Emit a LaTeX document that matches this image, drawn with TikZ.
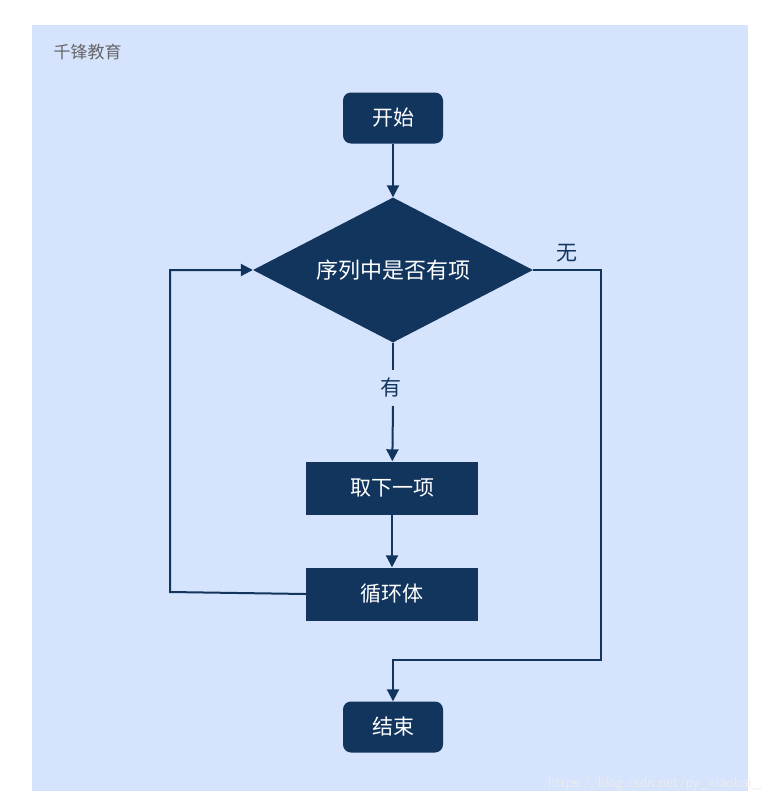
\documentclass[tikz,border=0pt]{standalone}
\usepackage{fontspec}
\setmainfont{Noto Sans CJK SC}
\usetikzlibrary{shapes.geometric,arrows.meta}
\definecolor{navy}{HTML}{12355E}
\definecolor{bgblue}{HTML}{D5E3FC}
\tikzset{
  box/.style={fill=navy,text=white,minimum width=172pt,minimum height=53pt,font=\fontsize{21pt}{23pt}\selectfont,inner sep=0pt},
  term/.style={box,rounded corners=8pt,minimum width=100pt,minimum height=51pt},
  dec/.style={diamond,fill=navy,text=white,font=\fontsize{22pt}{24pt}\selectfont,minimum width=280pt,minimum height=145pt,aspect=1.93,inner sep=0pt},
  flow/.style={navy,line width=2pt,-{Triangle[length=12pt,width=12pt]}},
  lbl/.style={text=navy,font=\fontsize{21pt}{23pt}\selectfont}
}
\begin{document}
\begin{tikzpicture}[x=1pt,y=-1pt]
\useasboundingbox (0,0) rectangle (772,806);
\fill[bgblue] (32,25) rectangle (748,791);
\node[text=gray!80!black,font=\fontsize{17pt}{19pt}\selectfont,anchor=west] (logo) at (50,52) {千锋教育};
\node[text=white!85!gray,font=\sffamily\fontsize{15pt}{17pt}\selectfont,anchor=east] (wm) at (765,784) {https://blog.csdn.net/py\_xiaobai\_};
\node[term] (start) at (393,118) {开始};
\node[dec] (cond) at (393,270) {序列中是否有项};
\node[box] (take) at (392,488) {取下一项};
\node[box] (body) at (392,594) {循环体};
\node[term] (end) at (393,727) {结束};
\coordinate (l1) at (170,592);
\coordinate (l2) at (170,270);
\coordinate (r1) at (601,270);
\coordinate (r2) at (601,660);
\coordinate (r3) at (393,660);
\draw[flow] (start) -- (cond);
\draw[navy,line width=2pt] (cond.south) -- (393,370);
\node[lbl] (you) at (391,388) {有};
\draw[flow] (393,406) -- (take);
\draw[flow] (take) -- (body);
\draw[flow] (body.west) -- (l1) -- (l2) -- (cond.west);
\draw[flow] (cond.east) -- (r1) -- (r2) -- (r3) -- (end.north);
\node[lbl] (wu) at (567,253) {无};
\end{tikzpicture}
\end{document}
